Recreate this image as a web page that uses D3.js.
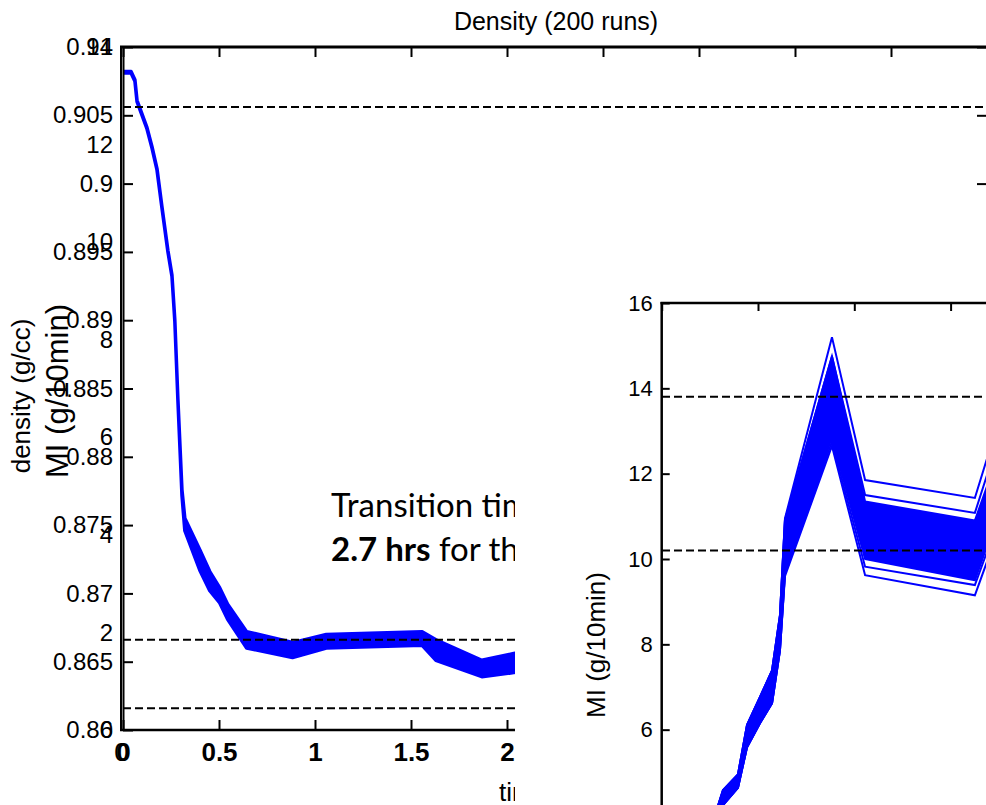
<!DOCTYPE html>
<html>
<head>
<meta charset="utf-8">
<script src="https://cdn.jsdelivr.net/npm/d3@7"></script>
<style>
  body { margin: 0; background: #fff; }
  svg { display: block; font-family: Arial, "Liberation Sans", sans-serif; }
</style>
</head>
<body>
<svg id="chart" width="986" height="805"></svg>
<script>
// density of the 200 runs, drawn as the envelope of the bundle
var densTime  = [0, 0.042, 0.062, 0.073, 0.125, 0.151, 0.177, 0.202, 0.234, 0.255, 0.27, 0.286, 0.307, 0.322,
                 0.40, 0.452, 0.504, 0.545, 0.644, 0.883, 1.059, 1.558, 1.63, 1.869, 2.035, 2.2];
var densUpper = [0.9082, 0.9082, 0.9076, 0.9061, 0.9041, 0.9027, 0.9011, 0.8984, 0.8951, 0.8933, 0.8900, 0.8842, 0.8776, 0.8755,
                 0.8732, 0.8716, 0.8704, 0.8692, 0.8672, 0.8664, 0.8670, 0.8672, 0.8666, 0.8651, 0.8656, 0.8660];
var densLower = [0.9081, 0.9081, 0.9075, 0.9060, 0.9040, 0.9026, 0.9010, 0.8983, 0.8950, 0.8932, 0.8899, 0.8841, 0.8772, 0.8746,
                 0.8717, 0.8702, 0.8693, 0.8681, 0.8660, 0.8653, 0.8660, 0.8662, 0.8651, 0.8639, 0.8642, 0.8646];
var densLimits = [0.9056, 0.8666, 0.8616];

var densTicks = [0.86, 0.865, 0.87, 0.875, 0.88, 0.885, 0.89, 0.895, 0.9, 0.905, 0.91];
var miTicks   = [0, 2, 4, 6, 8, 10, 12, 14];
var timeTicks = [0, 0.5, 1, 1.5, 2, 2.5, 3, 3.5, 4, 4.5];
var timeLabels = [0, 0.5, 1, 1.5, 2];

// MI inset: envelope of the bundle plus the runs that stand apart from it
var miTime  = [0.27, 0.318, 0.396, 0.443, 0.51, 0.573, 0.614, 0.64, 0.884, 1.056, 1.626, 1.87];
var miUpper = [3.9, 4.58, 4.95, 6.11, 6.76, 7.39, 8.68, 10.91, 14.75, 11.35, 10.9, 14.0];
var miLower = [3.5, 4.23, 4.64, 5.59, 6.15, 6.62, 7.86, 9.67, 12.85, 10.0, 9.5, 12.6];
var miRunA  = [3.9, 4.58, 4.95, 6.11, 6.76, 7.39, 8.68, 10.95, 15.2, 11.85, 11.43, 15.0];
var miRunB  = [3.9, 4.58, 4.95, 6.11, 6.76, 7.39, 8.68, 10.91, 14.75, 11.5, 11.08, 14.5];
var miRunC  = [3.5, 4.23, 4.64, 5.59, 6.15, 6.62, 7.86, 9.65, 12.75, 9.82, 9.39, 12.4];
var miRunD  = [3.5, 4.23, 4.64, 5.59, 6.15, 6.62, 7.86, 9.6, 12.65, 9.62, 9.15, 12.2];
var miLimits = [13.8, 10.2];
var insetTicks = [6, 8, 10, 12, 14, 16];
var insetTimeTicks = [0, 0.5, 1, 1.5, 2];

var blue = "#0000ff";
var svg = d3.select("#chart");

// ---------- main axes ----------
var x  = d3.scaleLinear().domain([0, 4.5]).range([123, 987]);
var yD = d3.scaleLinear().domain([0.86, 0.91]).range([730, 47]);
var yM = d3.scaleLinear().domain([0, 14]).range([730, 47]);

svg.append("text")
  .attr("x", 556).attr("y", 30)
  .attr("text-anchor", "middle")
  .style("font-size", "25px")
  .text("Density (200 runs)");

svg.append("clipPath").attr("id", "mainClip")
  .append("rect").attr("x", 123).attr("y", 47).attr("width", 864).attr("height", 683);

var dens = densTime.map((t, i) => ({ t: t, hi: densUpper[i], lo: densLower[i] }));

svg.append("path")
  .datum(dens)
  .attr("clip-path", "url(#mainClip)")
  .attr("fill", blue)
  .attr("stroke", blue)
  .attr("stroke-width", 3.5)
  .attr("stroke-linejoin", "round")
  .attr("d", d3.area().x(d => x(d.t)).y0(d => yD(d.lo)).y1(d => yD(d.hi)));

svg.selectAll(".dlim")
  .data(densLimits)
  .enter().append("line")
    .attr("x1", 123).attr("x2", 987)
    .attr("y1", d => yD(d)).attr("y2", d => yD(d))
    .attr("stroke", "#000")
    .attr("stroke-width", 2)
    .attr("stroke-dasharray", "8,4");

function styleAxis(g, size, bold) {
  g.select(".domain").remove();
  g.selectAll(".tick line").attr("stroke", "#000").attr("stroke-width", 2);
  g.selectAll(".tick text")
    .attr("fill", "#000")
    .style("font-family", "Arial, 'Liberation Sans', sans-serif")
    .style("font-size", size + "px")
    .style("font-weight", bold ? "bold" : "normal");
}

svg.append("g")
  .attr("transform", "translate(123,0)")
  .call(d3.axisLeft(yD).tickValues(densTicks).tickSize(-10).tickPadding(10)
    .tickFormat(d => String(+d.toFixed(3))))
  .call(g => styleAxis(g, 24));

svg.append("g")
  .attr("transform", "translate(123,0)")
  .call(d3.axisLeft(yM).tickValues(miTicks).tickSize(0).tickPadding(10).tickFormat(d => String(d)))
  .call(g => styleAxis(g, 24));

svg.append("g")
  .attr("transform", "translate(987,0)")
  .call(d3.axisRight(yD).tickValues(densTicks).tickSize(-10).tickFormat(""))
  .call(g => styleAxis(g, 24));

svg.append("g")
  .attr("transform", "translate(0,730)")
  .call(d3.axisBottom(x).tickValues(timeTicks).tickSize(-10).tickFormat(""))
  .call(g => styleAxis(g, 26));

svg.append("g")
  .attr("transform", "translate(0,730)")
  .call(d3.axisBottom(x).tickValues(timeLabels).tickSize(0).tickPadding(13).tickFormat(d => String(d)))
  .call(g => styleAxis(g, 26, true));

svg.append("g")
  .attr("transform", "translate(-2,730)")
  .call(d3.axisBottom(x).tickValues([0]).tickSize(0).tickPadding(13).tickFormat(d => String(d)))
  .call(g => styleAxis(g, 26));

svg.append("g")
  .attr("transform", "translate(0,47)")
  .call(d3.axisTop(x).tickValues(timeTicks).tickSize(-10).tickFormat(""))
  .call(g => styleAxis(g, 24));

// box
svg.append("line").attr("x1", 120).attr("x2", 987).attr("y1", 47).attr("y2", 47)
  .attr("stroke", "#000").attr("stroke-width", 3);
svg.append("line").attr("x1", 121).attr("x2", 121).attr("y1", 46).attr("y2", 731)
  .attr("stroke", "#000").attr("stroke-width", 2);
svg.append("line").attr("x1", 123.5).attr("x2", 123.5).attr("y1", 46).attr("y2", 731)
  .attr("stroke", "#000").attr("stroke-width", 2);
svg.append("line").attr("x1", 120).attr("x2", 987).attr("y1", 730).attr("y2", 730)
  .attr("stroke", "#000").attr("stroke-width", 2.5);

svg.append("text")
  .attr("transform", "translate(30,396) rotate(-90)")
  .attr("text-anchor", "middle")
  .style("font-size", "26px")
  .text("density (g/cc)");

svg.append("text")
  .attr("transform", "translate(68,391) rotate(-90)")
  .attr("text-anchor", "middle")
  .style("font-size", "31px")
  .text("MI (g/10min)");

svg.append("text")
  .attr("x", 499).attr("y", 801)
  .style("font-size", "26px")
  .text("time (hrs)");

var note = svg.append("text")
  .attr("x", 331).attr("y", 517)
  .style("font-family", "Lato, 'Open Sans', sans-serif")
  .style("font-size", "33px");
note.append("tspan").text("Transition time");
note.append("tspan").attr("x", 331).attr("y", 561).style("font-weight", "bold").text("2.7 hrs");
note.append("tspan").text(" for the MI");

// ---------- MI inset ----------
svg.append("rect")
  .attr("x", 515).attr("y", 215).attr("width", 471).attr("height", 590)
  .attr("fill", "#fff");

var xi = d3.scaleLinear().domain([0, 2]).range([661.7, 661.7 + 385.2]);
var yi = d3.scaleLinear().domain([4, 16]).range([815, 303]);

svg.append("clipPath").attr("id", "insetClip")
  .append("rect").attr("x", 662).attr("y", 303).attr("width", 400).attr("height", 520);

var mi = miTime.map((t, i) => ({ t: t, hi: miUpper[i], lo: miLower[i] }));
var insetPlot = svg.append("g").attr("clip-path", "url(#insetClip)");

insetPlot.append("path")
  .datum(mi)
  .attr("fill", blue)
  .attr("stroke", blue)
  .attr("stroke-width", 2)
  .attr("stroke-linejoin", "round")
  .attr("d", d3.area().x(d => xi(d.t)).y0(d => yi(d.lo)).y1(d => yi(d.hi)));

var runLine = d3.line().x((v, i) => xi(miTime[i])).y(v => yi(v));
insetPlot.selectAll(".run")
  .data([miRunA, miRunB, miRunC, miRunD])
  .enter().append("path")
    .attr("fill", "none")
    .attr("stroke", blue)
    .attr("stroke-width", 2)
    .attr("d", runLine);

svg.selectAll(".milim")
  .data(miLimits)
  .enter().append("line")
    .attr("x1", 662).attr("x2", 986)
    .attr("y1", d => yi(d)).attr("y2", d => yi(d))
    .attr("stroke", "#000")
    .attr("stroke-width", 2)
    .attr("stroke-dasharray", "8,4");

svg.append("g")
  .attr("transform", "translate(661.7,0)")
  .call(d3.axisLeft(yi).tickValues(insetTicks).tickSize(-8).tickPadding(9))
  .call(g => styleAxis(g, 22));

svg.append("g")
  .attr("transform", "translate(0,303)")
  .call(d3.axisTop(xi).tickValues(insetTimeTicks).tickSize(-8).tickFormat(""))
  .call(g => styleAxis(g, 22));

svg.append("line").attr("x1", 661.7).attr("x2", 661.7).attr("y1", 302).attr("y2", 805)
  .attr("stroke", "#000").attr("stroke-width", 2.5);
svg.append("line").attr("x1", 660.5).attr("x2", 986).attr("y1", 303).attr("y2", 303)
  .attr("stroke", "#000").attr("stroke-width", 2.5);

svg.append("text")
  .attr("transform", "translate(605,645) rotate(-90)")
  .attr("text-anchor", "middle")
  .style("font-size", "26px")
  .text("MI (g/10min)");
</script>
</body>
</html>
